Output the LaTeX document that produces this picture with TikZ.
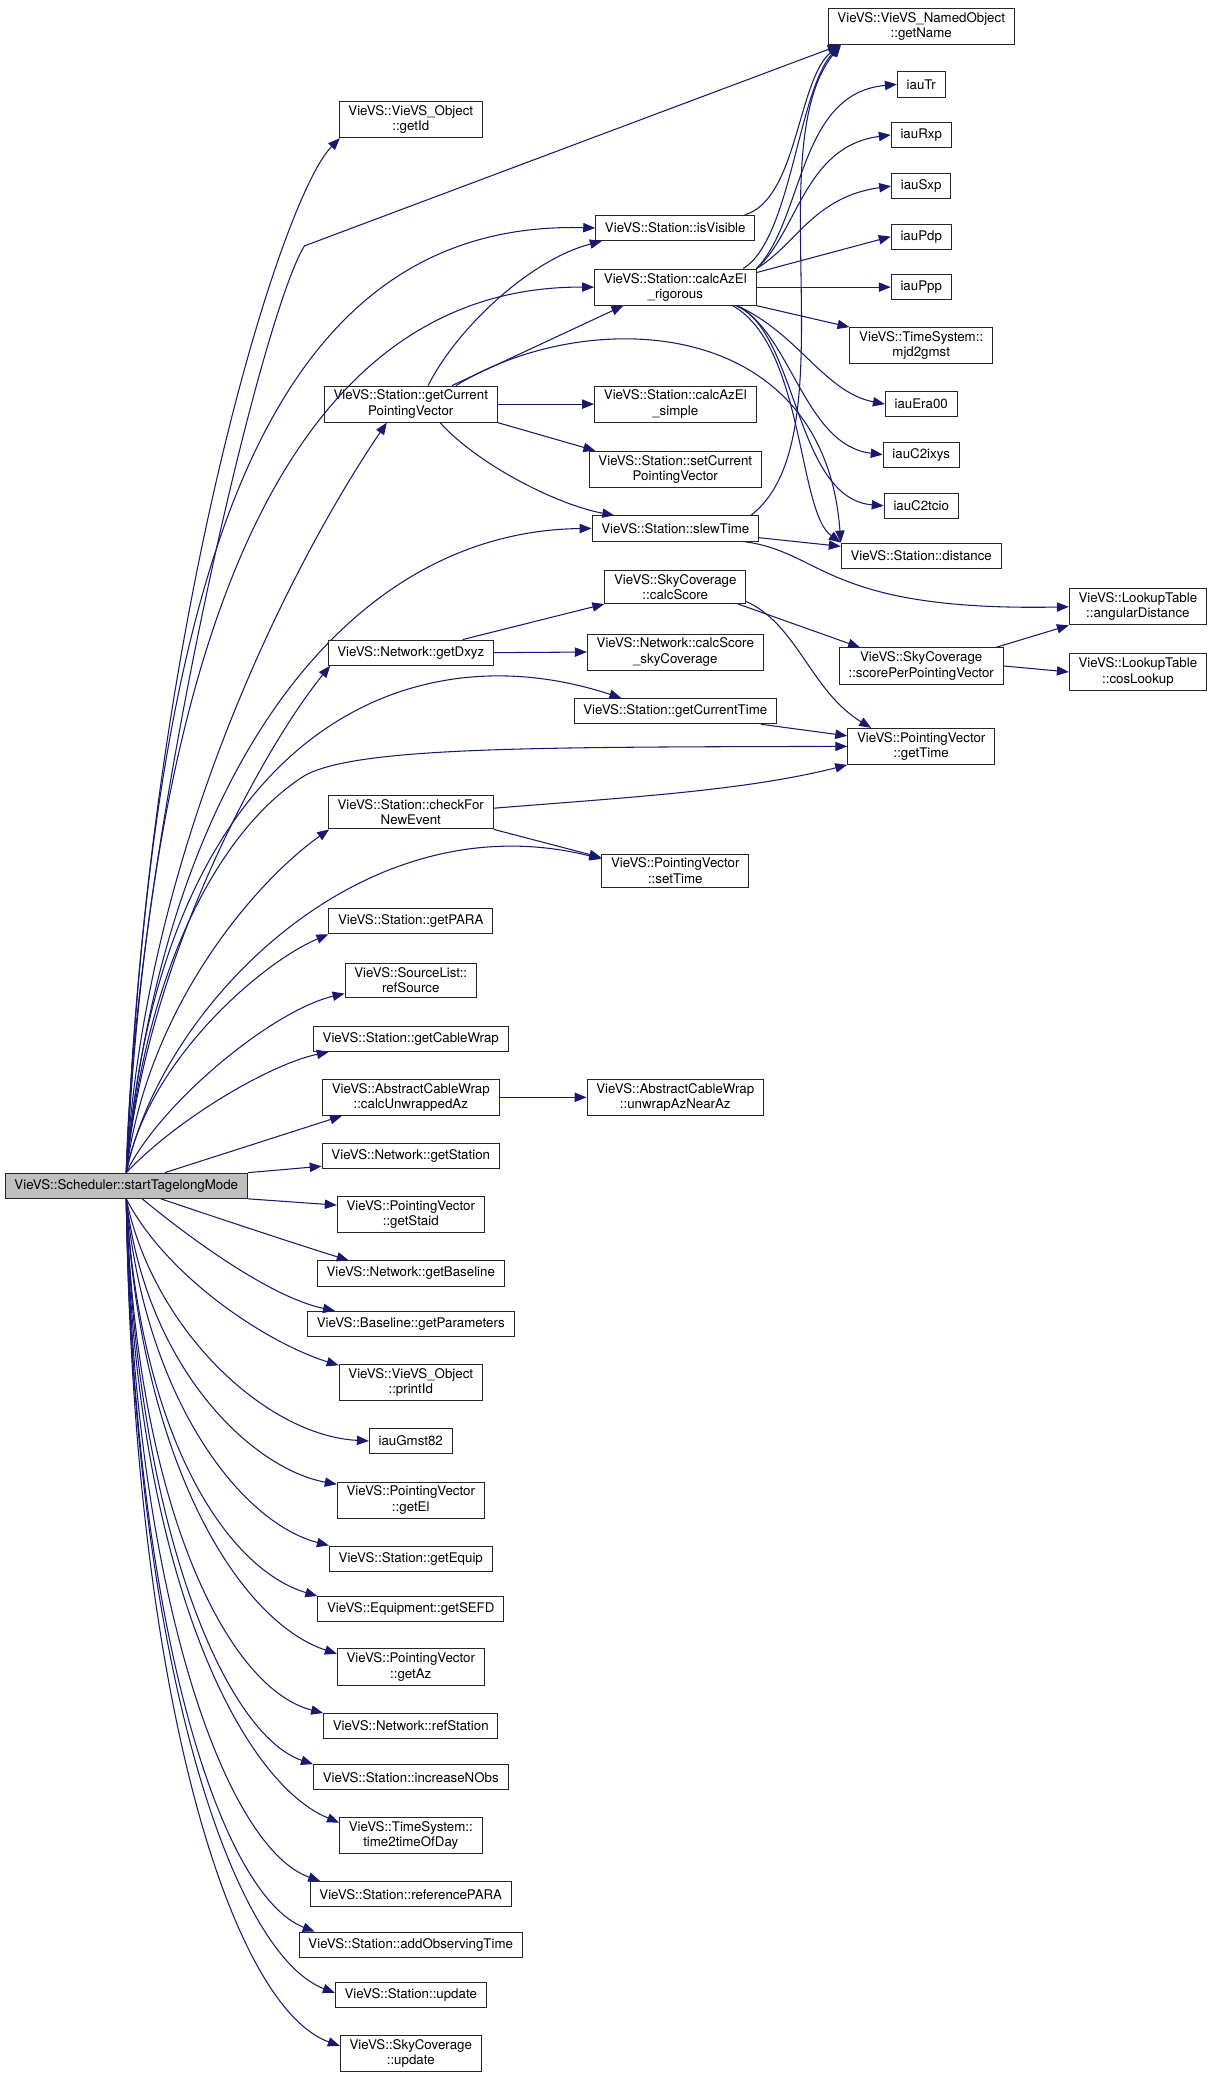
\documentclass[tikz,border=0pt]{standalone}
\usepackage{fontspec}
\setmainfont{TeX Gyre Heros}
\usetikzlibrary{arrows.meta}
\definecolor{navy}{HTML}{191970}
\begin{document}
\begin{tikzpicture}[x=1pt, y=-1pt,
  fn/.style={draw=black!85, line width=0.7pt, fill=white, align=center, inner xsep=7pt, inner ysep=3pt,
    minimum height=19pt, font=\fontsize{10}{11.5}\selectfont},
  rootfn/.style={fn, fill=black!25},
  calls/.style={draw=navy, line width=0.8pt, -{Triangle[length=9pt,width=7pt]}, fill=none}]
\useasboundingbox (0,0) rectangle (911,1565.5);
\draw(95,892) node[rootfn] (root) {VieVS::Scheduler::startTagelongMode};
% callees of the root, upper half
\draw(693,20) node[fn] (getName) {VieVS::VieVS\_NamedObject\\::getName};
\draw[calls] (root.north) .. controls (100,650) and (195,240) .. (229,185) -- ([xshift=9pt]getName.south west);
\draw(309,90) node[fn] (getId) {VieVS::VieVS\_Object\\::getId};
\draw[calls] (root.north) .. controls (110,480) and (210,150) .. ([xshift=1pt]getId.south west);
\draw(309,304) node[fn] (gcpv) {VieVS::Station::getCurrent\\PointingVector};
\draw[calls] (root.north) .. controls (110,620) and (235,400) .. ([xshift=-18pt]gcpv.south);
\draw(508,171.5) node[fn] (isVis) {VieVS::Station::isVisible};
\draw[calls] (root.north) .. controls (115,430) and (200,165) .. (isVis.west);
\draw[calls] ([xshift=13pt]gcpv.north) .. controls (345,245) and (400,195) .. ([xshift=5pt]isVis.south west);
\draw[calls] ([xshift=-8pt]isVis.north east) .. controls (600,150) and (600,60) .. ([xshift=9pt]getName.south west);
\draw(508,216) node[fn] (rig) {VieVS::Station::calcAzEl\\\_rigorous};
\draw[calls] (root.north) .. controls (115,480) and (215,215) .. (rig.west);
\draw[calls] ([xshift=31pt]gcpv.north) -- ([xshift=22pt]rig.south west);
\draw[calls] ([xshift=-10pt]rig.north east) .. controls (595,180) and (600,70) .. ([xshift=9pt]getName.south west);
\draw(508,304) node[fn] (simple) {VieVS::Station::calcAzEl\\\_simple}; \draw[calls] (gcpv.east) -- (simple.west);
\draw(508,353) node[fn] (setCPV) {VieVS::Station::setCurrent\\PointingVector}; \draw[calls] (gcpv.south east) -- ([xshift=5pt]setCPV.north west);
\draw(508,397.5) node[fn] (slew) {VieVS::Station::slewTime};
\draw[calls] (root.north) .. controls (120,600) and (250,400) .. (slew.west);
\draw[calls] ([xshift=22pt]gcpv.south) .. controls (360,350) and (420,380) .. ([xshift=17pt]slew.north west);
\draw[calls] ([xshift=-6pt]slew.north east) .. controls (640,330) and (570,110) .. ([xshift=10pt]getName.south west);
% calcAzEl_rigorous callees
\draw(693,63.5) node[fn] (iauTr) {iauTr}; \draw[calls] (rig.north east) .. controls (605,165) and (600,70) .. (iauTr.west);
\draw(693,101.5) node[fn] (iauRxp) {iauRxp}; \draw[calls] (rig.north east) .. controls (600,175) and (605,110) .. (iauRxp.west);
\draw(693,140) node[fn] (iauSxp) {iauSxp}; \draw[calls] (rig.north east) .. controls (598,185) and (612,148) .. (iauSxp.west);
\draw(693,178) node[fn] (iauPdp) {iauPdp}; \draw[calls] ([yshift=-3pt]rig.north east) -- (iauPdp.west);
\draw(693,216) node[fn] (iauPpp) {iauPpp}; \draw[calls] (rig.east) -- (iauPpp.west);
\draw(693,260) node[fn] (mjd2gmst) {VieVS::TimeSystem::\\mjd2gmst}; \draw[calls] (rig.south east) -- (mjd2gmst.north west);
\draw(693,304) node[fn] (iauEra00) {iauEra00}; \draw[calls] ([xshift=-15pt]rig.south east) .. controls (600,250) and (620,295) .. (iauEra00.west);
\draw(693,342) node[fn] (iauC2ixys) {iauC2ixys}; \draw[calls] ([xshift=-15pt]rig.south east) .. controls (595,250) and (605,335) .. (iauC2ixys.west);
\draw(693,380.5) node[fn] (iauC2tcio) {iauC2tcio}; \draw[calls] ([xshift=-15pt]rig.south east) .. controls (600,250) and (598,375) .. (iauC2tcio.west);
\draw(693,418) node[fn] (dist) {VieVS::Station::distance};
\draw[calls] ([xshift=-18pt]rig.south east) .. controls (605,260) and (600,385) .. (dist.north west);
\draw[calls] ([xshift=34pt]gcpv.north) .. controls (440,230) and (620,235) .. (dist.north west);
\draw[calls] ([yshift=-7pt]slew.east) -- ([yshift=7pt]dist.west);
% sky coverage and times
\draw(856,456.5) node[fn] (angDist) {VieVS::LookupTable\\::angularDistance};
\draw[calls] ([xshift=-12pt]slew.south east) .. controls (620,415) and (620,460) .. (angDist.west);
\draw(309,491) node[fn] (getDxyz) {VieVS::Network::getDxyz};
\draw[calls] (root.north) .. controls (110,720) and (200,560) .. ([xshift=2pt]getDxyz.south west);
\draw(508,441.5) node[fn] (calcScore) {VieVS::SkyCoverage\\::calcScore}; \draw[calls] ([xshift=39pt]getDxyz.north) -- (calcScore.south west);
\draw(508,490.5) node[fn] (calcScoreSky) {VieVS::Network::calcScore\\\_skyCoverage}; \draw[calls] (getDxyz.east) -- (calcScoreSky.west);
\draw(693,501) node[fn] (scorePPV) {VieVS::SkyCoverage\\::scorePerPointingVector}; \draw[calls] ([xshift=-6pt]calcScore.south east) -- ([xshift=16pt]scorePPV.north west);
\draw[calls] ([xshift=-6pt]scorePPV.north east) -- (angDist.south west);
\draw(856,505.5) node[fn] (cosLookup) {VieVS::LookupTable\\::cosLookup}; \draw[calls] (scorePPV.east) -- (cosLookup.west);
\draw(508,535) node[fn] (getCT) {VieVS::Station::getCurrentTime};
\draw[calls] (root.north) .. controls (120,560) and (300,470) .. ([xshift=36pt]getCT.north west);
\draw(693,561.5) node[fn] (getTime) {VieVS::PointingVector\\::getTime};
\draw[calls] (root.north) .. controls (110,720) and (170,620) .. (230,583) .. controls (270,562) and (400,562) .. (getTime.west);
\draw[calls] ([yshift=-11pt]calcScore.east) .. controls (600,470) and (610,520) .. ([xshift=18pt]getTime.north west);
\draw[calls] ([xshift=-12pt]getCT.south east) -- ([yshift=-6pt]getTime.north west);
\draw(309,611) node[fn] (checkNew) {VieVS::Station::checkFor\\NewEvent};
\draw[calls] (root.north) .. controls (110,760) and (190,665) .. ([xshift=1pt]checkNew.south west);
\draw[calls] ([yshift=3pt]checkNew.east) .. controls (470,600) and (560,595) .. (getTime.south west);
\draw(508,655) node[fn] (setTime) {VieVS::PointingVector\\::setTime};
\draw[calls] (root.north) .. controls (120,760) and (270,600) .. ([yshift=-4pt]setTime.north west);
\draw[calls] (checkNew.south east) -- ([yshift=-3pt]setTime.north west);
% close to the root
\draw(309,693) node[fn] (getPARA) {VieVS::Station::getPARA}; \draw[calls] (root.north) .. controls (110,800) and (195,725) .. (getPARA.south west);
\draw(309,737.5) node[fn] (refSource) {VieVS::SourceList::\\refSource}; \draw[calls] (root.north) .. controls (120,830) and (205,760) .. ([yshift=3pt]refSource.south west);
\draw(309,781.5) node[fn] (getCW) {VieVS::Station::getCableWrap}; \draw[calls] (root.north) .. controls (135,840) and (205,800) .. ([xshift=12pt]getCW.south west);
\draw(309,825.5) node[fn] (calcUnw) {VieVS::AbstractCableWrap\\::calcUnwrappedAz}; \draw[calls] ([xshift=29pt]root.north) -- ([xshift=15pt]calcUnw.south west);
\draw(508,825.5) node[fn] (unwrap) {VieVS::AbstractCableWrap\\::unwrapAzNearAz}; \draw[calls] (calcUnw.east) -- (unwrap.west);
\draw(309,869.5) node[fn] (getStation) {VieVS::Network::getStation}; \draw[calls] (root.north east) -- ([yshift=2pt]getStation.south west);
\draw(309,913.5) node[fn] (getStaid) {VieVS::PointingVector\\::getStaid}; \draw[calls] (root.south east) -- ([yshift=-7pt]getStaid.north west);
% callees of the root, lower half
\draw(309,958) node[fn] (getBaseline) {VieVS::Network::getBaseline}; \draw[calls] ([xshift=26pt]root.south) .. controls (160,915) and (220,935) .. ([xshift=24pt]getBaseline.north west);
\draw(309,996) node[fn] (getParams) {VieVS::Baseline::getParameters}; \draw[calls] ([xshift=12pt]root.south) .. controls (135,925) and (200,975) .. ([xshift=21pt]getParams.north west);
\draw(309,1040) node[fn] (printId) {VieVS::VieVS\_Object\\::printId}; \draw[calls] (root.south) .. controls (125,960) and (200,1010) .. ([yshift=-1pt]printId.north west);
\draw(309,1084) node[fn] (gmst) {iauGmst82}; \draw[calls] (root.south) .. controls (115,1000) and (200,1080) .. (gmst.west);
\draw(309,1128.5) node[fn] (getEl) {VieVS::PointingVector\\::getEl}; \draw[calls] (root.south) .. controls (110,1030) and (190,1105) .. ([yshift=-2pt]getEl.north west);
\draw(309,1172.5) node[fn] (getEquip) {VieVS::Station::getEquip}; \draw[calls] (root.south) .. controls (108,1050) and (180,1145) .. (getEquip.north west);
\draw(309,1210.5) node[fn] (getSEFD) {VieVS::Equipment::getSEFD}; \draw[calls] (root.south) .. controls (105,1080) and (170,1180) .. (getSEFD.north west);
\draw(309,1254) node[fn] (getAz) {VieVS::PointingVector\\::getAz}; \draw[calls] (root.south) .. controls (105,1100) and (180,1220) .. ([yshift=-4pt]getAz.north west);
\draw(309,1298.5) node[fn] (refStation) {VieVS::Network::refStation}; \draw[calls] (root.south) .. controls (102,1130) and (170,1270) .. (refStation.north west);
\draw(309,1337) node[fn] (incNObs) {VieVS::Station::increaseNObs}; \draw[calls] (root.south) .. controls (102,1150) and (170,1305) .. (incNObs.north west);
\draw(309,1381) node[fn] (t2tod) {VieVS::TimeSystem::\\time2timeOfDay}; \draw[calls] (root.south) .. controls (100,1180) and (180,1340) .. ([yshift=-4pt]t2tod.north west);
\draw(309,1425) node[fn] (refPARA) {VieVS::Station::referencePARA}; \draw[calls] (root.south) .. controls (100,1200) and (170,1390) .. ([xshift=8pt]refPARA.north west);
\draw(309,1463) node[fn] (addObs) {VieVS::Station::addObservingTime}; \draw[calls] (root.south) .. controls (100,1220) and (165,1425) .. ([xshift=12pt]addObs.north west);
\draw(309,1501) node[fn] (staUpd) {VieVS::Station::update}; \draw[calls] (root.south) .. controls (100,1250) and (175,1470) .. ([yshift=-8pt]staUpd.north west);
\draw(309,1545) node[fn] (skyUpd) {VieVS::SkyCoverage\\::update}; \draw[calls] (root.south) .. controls (100,1280) and (175,1510) .. ([yshift=-8pt]skyUpd.north west);
\end{tikzpicture}
\end{document}
